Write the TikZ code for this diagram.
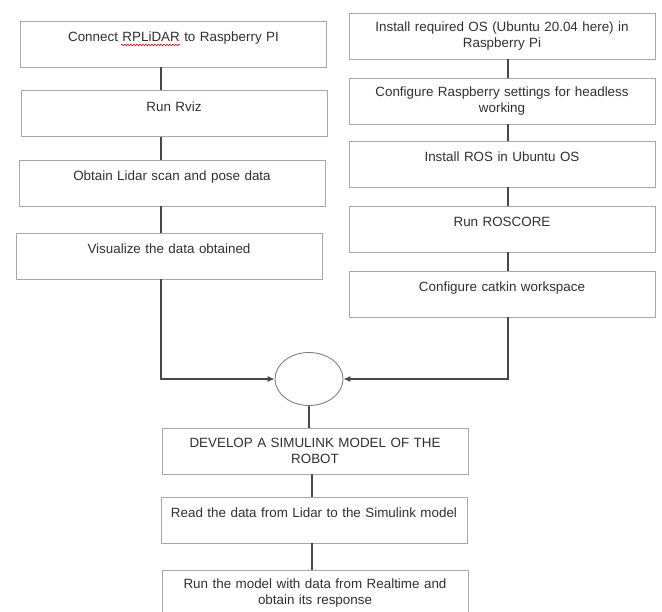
\documentclass[tikz,border=0pt]{standalone}
\usepackage{fontspec}
\setmainfont{Liberation Sans}
\usetikzlibrary{arrows.meta,shapes.geometric,decorations.pathmorphing}
\definecolor{boxgray}{HTML}{A8A8A8}
\definecolor{linegray}{HTML}{484848}
\definecolor{textgray}{HTML}{303030}

\begin{document}
\begin{tikzpicture}[x=1pt,y=-1pt,
	stepbox/.style={draw=boxgray,line width=0.9pt,inner sep=3pt,text width=300pt,minimum height=46pt,align=center,text=textgray,font=\fontsize{13.4}{16}\selectfont},
	oneline/.style={text depth=14pt},
	joinnode/.style={draw=gray,line width=0.9pt,ellipse,minimum width=68pt,minimum height=53pt,inner sep=0pt},
	link/.style={draw=linegray,line width=1.1pt},
	>={Latex[length=7pt,width=6pt]}]
	    \useasboundingbox (0,0) rectangle (662,612);
	    \coordinate (lspine) at (161,0);
	    \coordinate (rspine) at (508,0);
	    \coordinate (bspine) at (312,0);
	    % left column
	    \node[stepbox,oneline] (lidar) at (173.5,44) {Connect RPLiDAR to Raspberry PI};
	    \node[stepbox,oneline] (rviz) at (174,113.5) {Run Rviz};
	    \node[stepbox,oneline] (scan) at (172,183) {Obtain Lidar scan and pose data};
	    \node[stepbox,oneline] (viz) at (169,256) {Visualize the data obtained};
	    % right column
	    \node[stepbox] (os) at (502,36) {Install required OS (Ubuntu 20.04 here) in\\Raspberry Pi};
	    \node[stepbox] (headless) at (502,101) {Configure Raspberry settings for headless\\working};
	    \node[stepbox,oneline] (ros) at (502,164) {Install ROS in Ubuntu OS};
	    \node[stepbox,oneline] (roscore) at (502,229) {Run ROSCORE};
	    \node[stepbox,oneline] (catkin) at (502,294) {Configure catkin workspace};
	    % merge and simulink part
	    \node[joinnode] (join) at (309,379) {};
	    \node[stepbox] (model) at (315,451) {DEVELOP A SIMULINK MODEL OF THE\\ROBOT};
	    \node[stepbox,oneline] (read) at (314,520) {Read the data from Lidar to the Simulink model};
	    \node[stepbox] (run) at (315,593) {Run the model with data from Realtime and\\obtain its response};

	    % spell check mark under RPLiDAR
	    \draw[red,line width=0.6pt,decorate,decoration={snake,amplitude=0.8pt,segment length=3pt}] (121,45) -- (180,45);

	    \draw[link] (lidar.south -| lspine) -- (rviz.north -| lspine);
	    \draw[link] (rviz.south -| lspine) -- (scan.north -| lspine);
	    \draw[link] (scan.south -| lspine) -- (viz.north -| lspine);
	    \draw[link] (os.south -| rspine) -- (headless.north -| rspine);
	    \draw[link] (headless.south -| rspine) -- (ros.north -| rspine);
	    \draw[link] (ros.south -| rspine) -- (roscore.north -| rspine);
	    \draw[link] (roscore.south -| rspine) -- (catkin.north -| rspine);
	    \draw[link,->] (viz.south -| lspine) |- (join.west);
	    \draw[link,->] (catkin.south -| rspine) |- (join.east);
	    \draw[link] (join.south) -- (join.south |- model.north);
	    \draw[link] (model.south -| bspine) -- (read.north -| bspine);
	    \draw[link] (read.south -| bspine) -- (run.north -| bspine);
	\end{tikzpicture}
\end{document}
